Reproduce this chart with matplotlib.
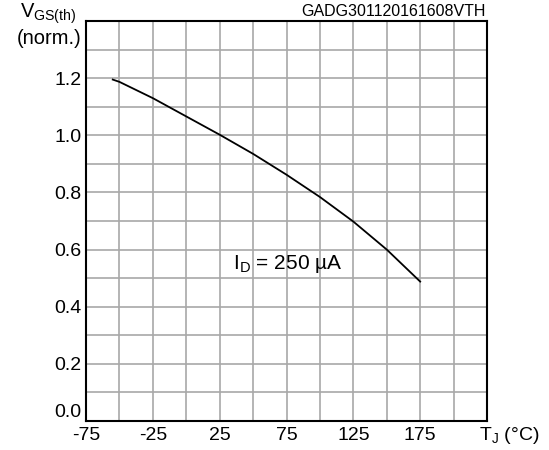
import numpy as np
import matplotlib.pyplot as plt

plt.rcParams['font.family'] = ['Liberation Sans', 'DejaVu Sans']

# curve
tj = [-55, -50, -25, 0, 25, 50, 75, 100, 125, 150, 175]
vgs_norm = [1.195, 1.187, 1.13, 1.066, 1.002, 0.935, 0.862, 0.784, 0.698, 0.60, 0.488]

x_ticks = np.arange(-75, 226, 25)
x_labels = ['-75', '', '-25', '', '25', '', '75', '', '125', '', '175', '', '']
y_ticks = np.arange(0, 1.41, 0.1)
y_labels = ['0.0', '', '0.2', '', '0.4', '', '0.6', '', '0.8', '', '1.0', '', '1.2', '', '']

fig = plt.figure(figsize=(5.49, 4.5), dpi=100)
ax = fig.add_axes([86 / 549, 1 - 421 / 450, (487 - 86) / 549, (421 - 21) / 450])

ax.plot(tj, vgs_norm, color='black', lw=1.3)

ax.set_xlim(-75, 225)
ax.set_ylim(0, 1.4)
ax.set_xticks(x_ticks)
ax.set_xticklabels(x_labels, fontsize=14)
ax.set_yticks(y_ticks)
ax.set_yticklabels(y_labels, fontsize=14)
ax.tick_params(axis='x', length=0, pad=4)
ax.tick_params(axis='y', length=0, pad=3)
# bottom y label sits on the axis line, above the -75
ax.get_yticklabels()[0].set_va('bottom')
ax.grid(True, color='#a8a8a8', lw=1.2)
ax.set_axisbelow(True)
for s in ax.spines.values():
    s.set_linewidth(1.5)
    s.set_color('black')

ax.text(35, 0.55, r'I$_\mathregular{D}$ = 250 µA', fontsize=15, va='center', ha='left')

fig.text(82 / 549, 1 - 38 / 450, '(norm.)', fontsize=14.5, ha='right', va='center')
fig.text(76 / 549, 1 - 14 / 450, r'V$_\mathregular{GS(th)}$', fontsize=14.5, ha='right', va='center')
fig.text(486 / 549, 1 - 12 / 450, 'GADG301120161608VTH', fontsize=11.5, ha='right', va='center')
fig.text(509 / 549, 1 - 436 / 450, r'T$_\mathregular{J}$ (°C)', fontsize=14, ha='center', va='center')

fig.savefig('out.png', dpi=100)
